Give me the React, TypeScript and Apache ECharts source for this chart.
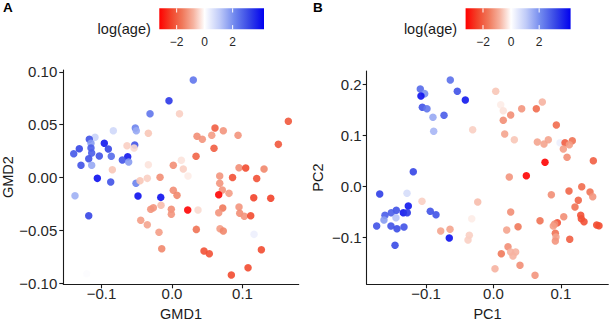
import React, { useEffect, useRef } from "react";
import * as echarts from "echarts";

// ---------- data ----------
// log(age) colour scale limits and legend ticks
const ageLimits = [-3.24, 4.24];
const legendTicks = [-2, 0, 2];
const legendTickLabels = ["\u22122", "0", "2"];

// Panel A axes
const gmdXTicks = [-0.1, 0, 0.1];
const gmdXTickLabels = ["\u22120.1", "0.0", "0.1"];
const gmdYTicks = [-0.1, -0.05, 0, 0.05, 0.1];
const gmdYTickLabels = ["\u22120.10", "\u22120.05", "0.00", "0.05", "0.10"];

// Panel B axes
const pcXTicks = [-0.1, 0, 0.1];
const pcXTickLabels = ["\u22120.1", "0.0", "0.1"];
const pcYTicks = [-0.1, 0, 0.1, 0.2];
const pcYTickLabels = ["\u22120.1", "0.0", "0.1", "0.2"];

// Panel A points
const gmd1 = [
  -0.0043, -0.0312, 0.0106, 0.0302, -0.0833, -0.0521, -0.0507, -0.0336, -0.1093, -0.1174,
  -0.115, -0.0961, -0.1316, -0.115, -0.0904, -0.1395, -0.114, -0.1032, -0.0862, -0.0529,
  -0.0639, -0.0539, -0.0629, -0.0705, -0.0615, -0.1182, -0.1292, -0.114, -0.0336, 0.0018,
  -0.0847, -0.106, -0.087, -0.0511, -0.0454, -0.0351, -0.017, -0.1377, -0.0483, -0.016,
  0.0018, 0.0071, -0.1182, -0.0302, -0.0265, -0.0156, -0.001, -0.001, -0.0444, -0.0351,
  -0.0185, -0.0146, 0.0227, 0.0677, 0.0859, 0.1202, 0.0677, 0.0714, 0.0809, 0.0663,
  0.116, 0.1401, 0.0223, 0.0369, 0.072, 0.0663, 0.0951, 0.0961, 0.1026, 0.1117,
  0.0345, 0.0681, 0.0728, 0.1164, 0.0454, 0.0529, 0.1268, 0.1079, 0.0842, 0.061,
  0.0728, 0.0355, 0.043, 0.0564, 0.0937, 0.1651, 0.1509, 0.0596, 0.0341, 0.0132,
  0.016, 0.0951, 0.1046, 0.1306, -0.1211,
];
const gmd2 = [
  0.0727, 0.0604, 0.0604, 0.0923, 0.0443, 0.0469, 0.0443, 0.0419, 0.0381, 0.0362,
  0.0324, 0.0324, 0.0273, 0.0279, 0.027, 0.0225, 0.0232, 0.0204, 0.0201, 0.0308,
  0.0301, 0.0279, 0.0197, 0.0166, 0.0147, 0.0178, 0.0116, 0.0116, 0.0121, 0.0116,
  0.0074, -0.0008, -0.0043, -0.0055, -0.003, -0.0008, 0.0002, -0.0172, -0.0175, -0.0188,
  -0.0121, -0.0169, -0.0362, -0.0301, -0.0286, -0.0263, -0.0301, -0.0348, -0.0405, -0.0447,
  -0.0519, -0.0674, 0.0014, 0.0014, 0.0, -0.0009, -0.0055, -0.0118, -0.015, -0.0163,
  -0.0191, -0.0197, -0.0308, -0.0308, -0.0289, -0.0333, -0.0279, -0.0339, -0.0367, -0.0362,
  -0.0491, -0.0485, -0.0507, -0.0538, -0.0696, -0.0722, -0.0684, -0.0854, -0.0923, 0.0469,
  0.0443, 0.039, 0.0362, 0.04, 0.04, 0.0532, 0.0314, 0.0277, 0.0201, 0.0163,
  0.008, 0.0093, 0.009, 0.008, -0.0911,
];
const gmdLogAge = [
  3.4, 2.4, -0.5, 2.4, 0.8, 2.2, 1.6, -0.6, 0.9, 3.0,
  1.8, 3.9, 3.2, 2.8, 3.2, 2.9, 2.8, 3.0, 2.6, 3.0,
  -0.5, -0.4, 3.9, 3.0, 1.8, 3.0, 3.0, 1.6, -0.3, -1.3,
  -0.6, 4.0, 3.0, 2.2, -0.6, -0.5, -1.3, 1.5, 4.0, 4.0,
  -1.3, -1.4, 3.2, -1.2, -1.2, -0.7, -1.3, -1.2, -1.1, -1.0,
  -1.1, -1.4, -0.2, -1.2, -2.2, -2.2, -1.2, -1.2, -1.1, -3.2,
  -2.4, -2.4, -3.2, -0.4, -1.6, -1.2, -1.2, -1.3, -1.2, -2.3,
  -1.7, -1.1, -1.4, 0.3, -2.2, -2.2, -2.3, -2.3, -2.3, -2.0,
  -1.2, -1.3, -1.2, -1.1, -1.2, -2.1, -2.1, -2.0, -1.9, -0.3,
  -0.5, -1.3, -2.3, -1.4, 0.05,
];

// Panel B points
const pc1 = [
  -0.0641, -0.1086, -0.1021, -0.1076, -0.0537, -0.0418, -0.1056, -0.0987, -0.0734, -0.0898,
  -0.0887, -0.0309, -0.119, -0.1688, -0.1283, -0.1061, -0.0234, -0.1264, -0.1442, -0.1516,
  -0.161, -0.1338, -0.1279, -0.0938, -0.0853, -0.1625, -0.1447, -0.1733, -0.1521, -0.1432,
  -0.1328, -0.0783, -0.0645, -0.0656, -0.0323, -0.0359, -0.0378, -0.1461, 0.0033, 0.0107,
  0.0145, 0.0724, 0.0635, 0.0418, 0.0255, 0.0145, 0.0932, 0.0166, 0.0309, 0.065,
  0.0749, 0.0813, 0.0987, 0.1061, 0.1169, 0.1125, 0.1036, 0.1091, 0.0764, 0.1481,
  0.0487, 0.0234, 0.1309, 0.112, 0.0858, 0.1432, 0.1472, 0.1258, 0.1209, 0.0255,
  0.1042, 0.069, 0.1294, 0.1303, 0.1343, 0.1531, 0.1565, 0.0947, 0.0908, 0.0887,
  0.0364, 0.0196, 0.0917, 0.0927, 0.0917, 0.1131, 0.0215, 0.0116, 0.0255, 0.0329,
  0.0289, 0.0393, 0.0022, 0.0616,
];
const pc2 = [
  0.2083, 0.1907, 0.1815, 0.177, 0.1862, 0.1691, 0.1548, 0.1521, 0.1391, 0.1352,
  0.1078, 0.1109, 0.0286, -0.0151, -0.0137, -0.0294, -0.0308, -0.0386, -0.047, -0.0517,
  -0.0568, -0.0517, -0.0517, -0.049, -0.0557, -0.066, -0.0615, -0.0778, -0.0778, -0.0831,
  -0.0798, -0.0876, -0.0843, -0.1013, -0.0635, -0.096, -0.1052, -0.1156, 0.1862, 0.1599,
  0.1481, 0.1652, 0.1521, 0.1521, 0.1397, 0.1293, 0.1201, 0.1025, 0.0913, 0.0868,
  0.0829, 0.0913, 0.0854, 0.0854, 0.0894, 0.0815, 0.0731, 0.0568, 0.047, 0.0502,
  0.0208, 0.0182, -0.0008, -0.0092, -0.0165, -0.0112, -0.0204, -0.0274, -0.0406, -0.0504,
  -0.0596, -0.0674, -0.0568, -0.0635, -0.0694, -0.0758, -0.0772, -0.0713, -0.0739, -0.0778,
  -0.0792, -0.0856, -0.0921, -0.0994, -0.1072, -0.1039, -0.1184, -0.1321, -0.1287, -0.1287,
  -0.1366, -0.1548, -0.1615, -0.1744,
];
const pcLogAge = [
  2.5, 2.6, 2.0, 4.0, 3.0, 3.9, 3.0, 2.4, 2.8, 1.6,
  1.4, -0.5, 3.2, 3.3, 0.7, -0.5, -0.7, 3.9, 3.0, 2.8,
  2.8, 3.9, 3.4, 3.0, 3.0, 1.8, 1.2, 3.0, 3.0, 3.1,
  3.0, -1.0, -1.0, 4.0, -0.2, -0.5, -0.5, 3.1, -0.6, -0.2,
  -0.3, -0.8, -1.8, -1.2, -1.3, -1.3, -1.8, -1.0, -0.6, -1.0,
  -1.0, -1.0, 0.3, -2.0, -1.7, -1.1, -1.1, -1.3, -3.2, -2.0,
  -3.2, -1.2, -1.8, -1.9, -1.3, -1.7, -1.2, -1.9, -1.7, -1.3,
  -1.3, -1.7, -2.2, -2.2, -2.2, -2.3, -2.3, -2.2, -1.3, -1.1,
  -1.6, -1.0, -1.7, -1.0, -1.2, -2.0, -1.3, -1.6, -0.8, -0.8,
  -0.8, -1.3, -0.8, -1.2,
];

// ---------- styles ----------
const FONT = "'Liberation Sans', Arial, Helvetica, sans-serif";
const INK = "#1a1a1a";

const colorAnchors: [number, string][] = [
  [-3.24, "#ff0000"],
  [-2.4, "#f2442a"],
  [-1.6, "#f0785a"],
  [-0.8, "#f6b3a0"],
  [0, "#ffffff"],
  [1.06, "#c0cbf8"],
  [2.12, "#7088ee"],
  [3.18, "#3646e6"],
  [4.24, "#0000f0"],
];

function hexToRgb(h: string) {
  const n = parseInt(h.slice(1), 16);
  return [(n >> 16) & 255, (n >> 8) & 255, n & 255];
}
function colorAt(v: number) {
  for (let i = 0; i < colorAnchors.length - 1; i++) {
    const [v0, c0] = colorAnchors[i];
    const [v1, c1] = colorAnchors[i + 1];
    if (v <= v1 || i === colorAnchors.length - 2) {
      const t = Math.max(0, Math.min(1, (v - v0) / (v1 - v0)));
      const a = hexToRgb(c0);
      const b = hexToRgb(c1);
      const m = a.map((x, k) => Math.round(x + (b[k] - x) * t));
      return `rgb(${m[0]},${m[1]},${m[2]})`;
    }
  }
  return colorAnchors[0][1];
}
const [ageMin, ageMax] = ageLimits;
const sampledColors = Array.from({ length: 75 }, (_, i) =>
  colorAt(ageMin + ((ageMax - ageMin) * i) / 74)
);
const gradient = {
  type: "linear",
  x: 0,
  y: 0,
  x2: 1,
  y2: 0,
  colorStops: colorAnchors.map(([v, c]) => ({
    offset: (v - ageMin) / (ageMax - ageMin),
    color: c,
  })),
};

function labelFor(ticks: number[], labels: string[]) {
  return (v: number) => {
    const i = ticks.findIndex((t) => Math.abs(t - v) < 1e-9);
    return i >= 0 ? labels[i] : "";
  };
}

function makeAxis(o: {
  gridIndex: number;
  min: number;
  max: number;
  ticks: number[];
  labels: string[];
  name: string;
  nameGap: number;
  margin: number;
  vertical?: boolean;
}) {
  return {
    type: "value",
    gridIndex: o.gridIndex,
    min: o.min,
    max: o.max,
    name: o.name,
    nameLocation: "middle",
    nameGap: o.nameGap,
    nameRotate: o.vertical ? 90 : 0,
    nameTextStyle: { fontSize: 14.5, lineHeight: 15, color: INK, fontFamily: FONT },
    axisLine: { show: true, onZero: false, lineStyle: { color: INK, width: 1.1 } },
    axisTick: {
      show: true,
      length: 4,
      customValues: o.ticks,
      lineStyle: { color: INK, width: 1.1 },
    },
    axisLabel: {
      customValues: o.ticks,
      formatter: labelFor(o.ticks, o.labels),
      fontSize: 15,
      color: "#262626",
      fontFamily: FONT,
      margin: o.margin,
    },
    splitLine: { show: false },
  };
}

function legend(barLeft: number, barTop: number, barWidth: number, barHeight: number) {
  const toX = (v: number) => barLeft + ((v - ageMin) / (ageMax - ageMin)) * barWidth;
  const els: any[] = [
    {
      type: "rect",
      shape: { x: barLeft, y: barTop, width: barWidth, height: barHeight },
      style: { fill: gradient },
    },
  ];
  legendTicks.forEach((v, i) => {
    const x = toX(v);
    els.push({
      type: "line",
      shape: { x1: x, y1: barTop, x2: x, y2: barTop + barHeight / 5 },
      style: { stroke: "#ffffff", lineWidth: 1 },
    });
    els.push({
      type: "line",
      shape: { x1: x, y1: barTop + barHeight, x2: x, y2: barTop + (barHeight * 4) / 5 },
      style: { stroke: "#ffffff", lineWidth: 1 },
    });
    els.push({
      type: "text",
      x,
      y: 41.7,
      style: {
        text: legendTickLabels[i],
        fontSize: 12,
        fontFamily: FONT,
        fill: "#262626",
        align: "center",
        verticalAlign: "middle",
      },
    });
  });
  els.push({
    type: "text",
    x: barLeft - 8.5,
    y: 29,
    style: {
      text: "log(age)",
      fontSize: 14.5,
      fontFamily: FONT,
      fill: INK,
      align: "right",
      verticalAlign: "middle",
    },
  });
  return els;
}

const option = {
  animation: false,
  backgroundColor: "#ffffff",
  grid: [
    { left: 63.3, top: 70, width: 235.4, height: 214.3, outerBoundsMode: "none", containLabel: false },
    { left: 366.7, top: 71, width: 241.6, height: 213.3, outerBoundsMode: "none", containLabel: false },
  ],
  xAxis: [
    makeAxis({
      gridIndex: 0, min: -0.1543, max: 0.1798, ticks: gmdXTicks, labels: gmdXTickLabels,
      name: "GMD1", nameGap: 21, margin: 2,
    }),
    makeAxis({
      gridIndex: 1, min: -0.1881, max: 0.1703, ticks: pcXTicks, labels: pcXTickLabels,
      name: "PC1", nameGap: 21, margin: 2,
    }),
  ],
  yAxis: [
    makeAxis({
      gridIndex: 0, min: -0.1011, max: 0.1018, ticks: gmdYTicks, labels: gmdYTickLabels,
      name: "GMD2", nameGap: 47, margin: 6, vertical: true,
    }),
    makeAxis({
      gridIndex: 1, min: -0.192, max: 0.2259, ticks: pcYTicks, labels: pcYTickLabels,
      name: "PC2", nameGap: 41, margin: 5, vertical: true,
    }),
  ],
  visualMap: [
    {
      type: "continuous",
      show: false,
      min: ageMin,
      max: ageMax,
      dimension: 2,
      seriesIndex: [0, 1],
      inRange: { color: sampledColors },
    },
  ],
  series: [
    {
      type: "scatter",
      xAxisIndex: 0,
      yAxisIndex: 0,
      symbolSize: 7.5,
      itemStyle: { opacity: 0.9 },
      data: gmd1.map((x, i) => [x, gmd2[i], gmdLogAge[i]]),
    },
    {
      type: "scatter",
      xAxisIndex: 1,
      yAxisIndex: 1,
      symbolSize: 7.5,
      itemStyle: { opacity: 0.9 },
      data: pc1.map((x, i) => [x, pc2[i], pcLogAge[i]]),
    },
  ],
  graphic: [
    {
      type: "text",
      x: 3,
      y: 7.8,
      style: { text: "A", fontSize: 13.5, fontWeight: "bold", fontFamily: FONT, fill: "#000", verticalAlign: "middle" },
    },
    {
      type: "text",
      x: 313,
      y: 7.8,
      style: { text: "B", fontSize: 13.5, fontWeight: "bold", fontFamily: FONT, fill: "#000", verticalAlign: "middle" },
    },
    ...legend(159.3, 8.3, 104.7, 21),
    ...legend(465.6, 8.3, 105, 21),
  ],
};

export default function App() {
  const ref = useRef<HTMLDivElement>(null);
  useEffect(() => {
    if (!ref.current) return;
    const chart = echarts.init(ref.current, null, { renderer: "svg" });
    chart.setOption(option as any);
    return () => chart.dispose();
  }, []);
  return (
    <div
      ref={ref}
      style={{ position: "absolute", left: 0, top: 0, width: 609, height: 321 }}
    />
  );
}
